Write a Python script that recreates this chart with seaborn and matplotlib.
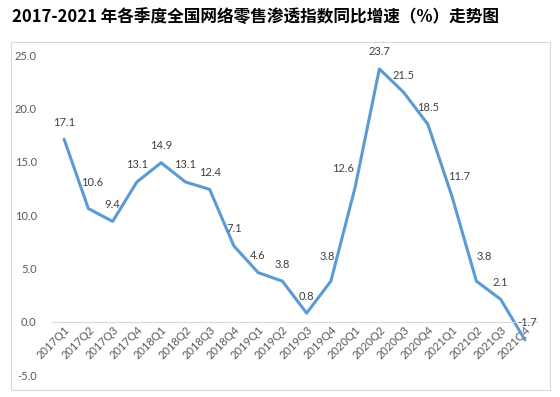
import matplotlib
matplotlib.use("Agg")
import matplotlib.pyplot as plt
from matplotlib.patches import Rectangle
import seaborn as sns
import pandas as pd

quarters = ["2017Q1", "2017Q2", "2017Q3", "2017Q4", "2018Q1", "2018Q2", "2018Q3", "2018Q4",
            "2019Q1", "2019Q2", "2019Q3", "2019Q4", "2020Q1", "2020Q2", "2020Q3", "2020Q4",
            "2021Q1", "2021Q2", "2021Q3", "2021Q4"]
growth = [17.1, 10.6, 9.4, 13.1, 14.9, 13.1, 12.4, 7.1, 4.6, 3.8, 0.8, 3.8, 12.6, 23.7,
          21.5, 18.5, 11.7, 3.8, 2.1, -1.7]
y_ticks = [-5, 0, 5, 10, 15, 20, 25]
title = "2017-2021 年各季度全国网络零售渗透指数同比增速（%）走势图"

# label offsets in pixels (dx, dy) -- styling only
label_offsets = {1: (4, 26), 11: (-4, 25), 12: (-12, 19), 16: (7, 20), 17: (8, 25), 19: (2, 17)}

df = pd.DataFrame({"quarter": quarters, "growth": growth})

sns.set_style("white")
plt.rcParams['font.family'] = ['Lato', 'Noto Sans CJK SC', 'DejaVu Sans']

fig = plt.figure(figsize=(5.6, 3.97), dpi=100)
W, H = 560, 397
ax = fig.add_axes([52 / W, (H - 375) / H, (537 - 52) / W, (375 - 55) / H])

# outer chart border
fig.patches.append(Rectangle((11 / W, (H - 390) / H), (550 - 11) / W, (390 - 42) / H,
                             transform=fig.transFigure, fill=False,
                             edgecolor="#d9d9d9", linewidth=0.8))

sns.lineplot(data=df, x="quarter", y="growth", ax=ax, color="#5B9BD5",
             linewidth=2.2, sort=False)

ax.set_xlim(-0.5, len(quarters) - 0.5)
ax.set_ylim(-5, 25)
ax.set_yticks(y_ticks)
ax.set_yticklabels([f"{v:.1f}" for v in y_ticks], fontsize=8, color="#595959")
ax.set_xlabel("")
ax.set_ylabel("")

for s in ["top", "right", "left"]:
    ax.spines[s].set_visible(False)
ax.spines["bottom"].set_position(("data", 0))
ax.spines["bottom"].set_color("#d9d9d9")
ax.spines["bottom"].set_linewidth(0.8)
ax.tick_params(axis="both", length=0)
ax.tick_params(axis="y", pad=11)
ax.tick_params(axis="x", pad=2)
ax.set_xticks(range(len(quarters)))
ax.set_xticklabels(quarters, rotation=45, ha="right", va="top",
                   rotation_mode="anchor", fontsize=8, color="#595959")
ax.patch.set_alpha(0)

for i, v in enumerate(growth):
    dx, dy = label_offsets.get(i, (0, 17))
    ax.annotate(f"{v:.1f}", (i, v), xytext=(dx * 0.72, dy * 0.72), textcoords="offset points",
                ha="center", va="center", fontsize=8, color="#404040")

fig.text(12 / W, 1 - 17 / H, title, ha="left", va="center", fontsize=12,
         fontweight="bold", color="#000000",
         family=["Noto Sans CJK SC", "DejaVu Sans"])

fig.savefig("out.png", dpi=100)
